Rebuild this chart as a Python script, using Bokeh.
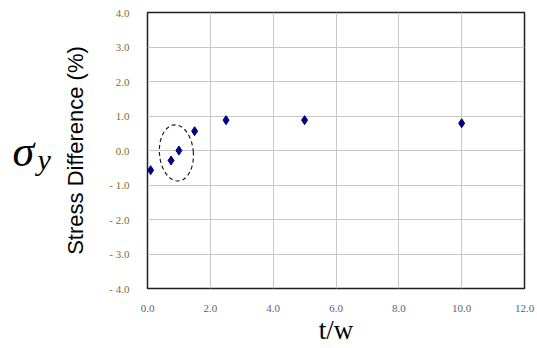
from bokeh.plotting import figure
from bokeh.layouts import row
from bokeh.models import Range1d, FixedTicker, PrintfTickFormatter
from bokeh.core.properties import value
from bokeh.embed import file_html
from bokeh.resources import INLINE

# data
tw = [0.1, 0.75, 1.0, 1.5, 2.5, 5.0, 10.0]
stress_diff = [-0.57, -0.29, 0.0, 0.56, 0.88, 0.88, 0.79]

x_ticks = [0, 2, 4, 6, 8, 10, 12]
y_ticks = [-4, -3, -2, -1, 0, 1, 2, 3, 4]
y_tick_labels = ["- 4.0", "- 3.0", "- 2.0", "- 1.0", "0.0", "1.0", "2.0", "3.0", "4.0"]

# highlighted group (ellipse)
ell_x, ell_y, ell_w, ell_h = 0.92, -0.07, 1.08, 1.63

LEFT_W = 60

# left panel carrying the sigma_y symbol
side = figure(width=LEFT_W, height=348, output_backend="svg", toolbar_location=None,
              x_range=Range1d(0, LEFT_W), y_range=Range1d(348, 0),
              x_axis_type=None, y_axis_type=None,
              min_border_left=0, min_border_right=0, min_border_top=0, min_border_bottom=0)
side.outline_line_color = None
side.grid.visible = False
side.text(x=[12], y=[175], text=["σ"], text_align="left", text_baseline="alphabetic",
          text_font=value("Liberation Serif"), text_font_style="italic",
          text_font_size="44px", text_color="black")
side.text(x=[37], y=[185], text=["y"], text_align="left", text_baseline="alphabetic",
          text_font=value("Liberation Serif"), text_font_style="italic",
          text_font_size="30px", text_color="black")

p = figure(width=537 - LEFT_W, height=348, output_backend="svg", toolbar_location=None,
           x_range=Range1d(0, 12), y_range=Range1d(-4, 4),
           min_border_left=147 - LEFT_W, min_border_right=13, min_border_top=12, min_border_bottom=60)
p.background_fill_color = "white"
p.border_fill_color = "white"
p.outline_line_color = "#202020"
p.outline_line_width = 1.5

p.xaxis.ticker = FixedTicker(ticks=x_ticks)
p.xaxis.formatter = PrintfTickFormatter(format="%.1f")
p.yaxis.ticker = FixedTicker(ticks=y_ticks)
p.yaxis.major_label_overrides = {t: l for t, l in zip(y_ticks, y_tick_labels)}

for ax, col in ((p.xaxis, "#5a6080"), (p.yaxis, "#8a6a2a")):
    ax.axis_line_color = None
    ax.major_tick_line_color = None
    ax.minor_tick_line_color = None
    ax.major_label_text_font = "Liberation Serif"
    ax.major_label_text_font_size = "11px"
    ax.major_label_text_color = col
    ax.major_label_standoff = 12
p.xaxis.major_label_standoff = 10

p.yaxis.axis_label = "Stress Difference (%)"
p.yaxis.axis_label_text_font = "Liberation Sans"
p.yaxis.axis_label_text_font_style = "normal"
p.yaxis.axis_label_text_font_size = "22px"
p.yaxis.axis_label_text_color = "black"
p.yaxis.axis_label_standoff = 18

p.xaxis.axis_label = "t/w"
p.xaxis.axis_label_text_font = "Liberation Serif"
p.xaxis.axis_label_text_font_style = "normal"
p.xaxis.axis_label_text_font_size = "27px"
p.xaxis.axis_label_text_color = "black"
p.xaxis.axis_label_standoff = 0

p.xgrid.grid_line_color = "#c8c8c8"
p.ygrid.grid_line_color = "#c8c8c8"

p.scatter(tw, stress_diff, marker="diamond", size=9, color="#000080")
p.ellipse(x=[ell_x], y=[ell_y], width=[ell_w], height=[ell_h], angle=0.08,
          fill_color=None, line_color="#202020", line_width=1.2, line_dash="4 3")

layout = row(side, p, spacing=0)
open("out.html", "w").write(file_html(layout, INLINE))
